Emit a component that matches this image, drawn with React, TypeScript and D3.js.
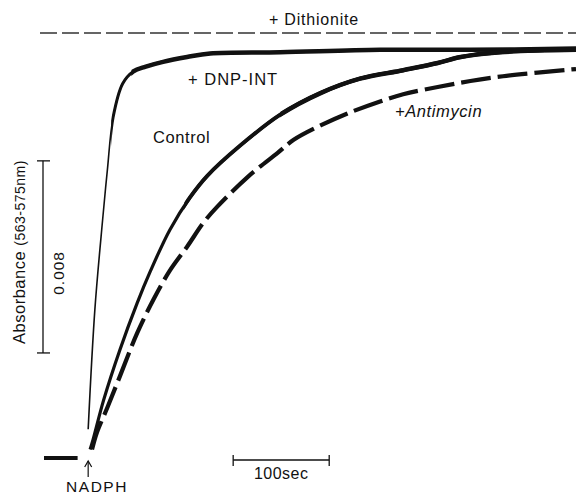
import React from "react";
import * as d3 from "d3";

// time in sec after NADPH addition, absorbance change in units of 0.001
const baselineT = [-46, -11];

const dnpT = [0, 7, 15, 20, 26, 36, 47, 60, 78, 103, 127, 200, 304, 398, 508];
const dnpA = [1.2, 6.2, 9.9, 12.0, 14.2, 15.6, 16.1, 16.3, 16.5, 16.7, 16.85, 16.9, 17.0, 17.0, 17.05];

const controlT = [2, 5, 16, 33, 51, 65, 85, 106, 124, 158, 200, 242, 283, 328, 364, 388, 429, 508];
const controlA = [0.35, 0.75, 2.4, 4.5, 6.45, 7.8, 9.5, 10.85, 11.75, 13.0, 14.3, 15.2, 15.8, 16.15, 16.45, 16.7, 16.9, 17.0];

const antimycinT = [4, 9, 20, 33, 51, 68, 85, 103, 120, 134, 166, 197, 214, 242, 270, 304, 328, 364, 398, 432, 468, 508];
const antimycinA = [0.35, 1.05, 2.1, 3.4, 5.2, 6.6, 7.8, 8.8, 9.8, 10.45, 11.7, 12.7, 13.25, 13.85, 14.35, 14.85, 15.15, 15.45, 15.7, 15.9, 16.05, 16.2];

const dithioniteA = 17.7;
const absBar = [4.375, 12.375]; // 0.008
const timeBar = [151, 251]; // 100 sec

const W = 576;
const H = 495;

const x = d3.scaleLinear().domain([-46, 508]).range([44, 576]);
const y = d3.scaleLinear().domain([0, dithioniteA]).range([458, 33]);

const line = d3
  .line<[number, number]>()
  .x((d) => x(d[0]))
  .y((d) => y(d[1]))
  .curve(d3.curveCatmullRom.alpha(0.5));

const zip = (t: number[], a: number[]) => t.map((v, i) => [v, a[i]] as [number, number]);

const font = "'Liberation Sans', Arial, sans-serif";
const ink = "#111";

export default function App() {
  const x0 = x(0);
  const dnpPath = line(zip(dnpT, dnpA)) || "";
  const ctlPath = line(zip(controlT, controlA)) || "";
  const antPath = line(zip(antimycinT, antimycinA)) || "";
  const clips = [24, 45, 100, 200];
  return (
    <svg
      width={W}
      height={H}
      style={{ position: "absolute", left: 0, top: 0, background: "#fff" }}
      fontFamily={font}
      fill={ink}
    >
      <defs>
        {clips.map((t) => (
          <clipPath key={t} id={`after${t}`}>
            <rect x={x(t)} y={0} width={W} height={H} />
          </clipPath>
        ))}
      </defs>

      {/* dithionite reference */}
      <line
        x1={40}
        x2={W}
        y1={y(dithioniteA)}
        y2={y(dithioniteA)}
        stroke="#333"
        strokeWidth={1.3}
        strokeDasharray="17 5"
      />
      <text x={314} y={25} fontSize={16} letterSpacing={0.8} textAnchor="middle">
        + Dithionite
      </text>

      {/* pre-addition baseline */}
      <line
        x1={x(baselineT[0])}
        x2={x(baselineT[1])}
        y1={y(0)}
        y2={y(0)}
        stroke={ink}
        strokeWidth={4}
      />

      {/* DNP-INT */}
      <path d={dnpPath} fill="none" stroke={ink} strokeWidth={1.6} />
      <path d={dnpPath} fill="none" stroke={ink} strokeWidth={3} clipPath="url(#after24)" />
      <path d={dnpPath} fill="none" stroke={ink} strokeWidth={4.5} clipPath="url(#after45)" />

      {/* control */}
      <path d={ctlPath} fill="none" stroke={ink} strokeWidth={3.2} />
      <path d={ctlPath} fill="none" stroke={ink} strokeWidth={3.9} clipPath="url(#after100)" />
      <path d={ctlPath} fill="none" stroke={ink} strokeWidth={4.6} clipPath="url(#after200)" />

      {/* antimycin */}
      <path d={antPath} fill="none" stroke={ink} strokeWidth={4.2} strokeDasharray="30 7" />

      <text x={188} y={85} fontSize={16.5} letterSpacing={1}>+ DNP-INT</text>
      <text x={153} y={143} fontSize={16.5} letterSpacing={0.6}>Control</text>
      <text x={395} y={117} fontSize={16.5} letterSpacing={0.6} fontStyle="italic">+Antimycin</text>

      {/* absorbance scale bar */}
      <g stroke={ink} strokeWidth={1.3}>
        <line x1={43} x2={43} y1={y(absBar[1])} y2={y(absBar[0])} />
        <line x1={37} x2={50} y1={y(absBar[1])} y2={y(absBar[1])} />
        <line x1={37} x2={50} y1={y(absBar[0])} y2={y(absBar[0])} />
      </g>
      <text
        transform={`translate(64,${(y(absBar[0]) + y(absBar[1])) / 2 + 16}) rotate(-90)`}
        fontSize={15.5}
        letterSpacing={1}
        textAnchor="middle"
      >
        0.008
      </text>
      <text transform="translate(25,252) rotate(-90)" textAnchor="middle" fontSize={16.5} letterSpacing={0.5}>
        Absorbance <tspan fontSize={14}>(563-575nm)</tspan>
      </text>

      {/* time scale bar */}
      <g stroke={ink} strokeWidth={1.3}>
        <line x1={x(timeBar[0])} x2={x(timeBar[1])} y1={460} y2={460} />
        <line x1={x(timeBar[0])} x2={x(timeBar[0])} y1={455} y2={466} />
        <line x1={x(timeBar[1])} x2={x(timeBar[1])} y1={455} y2={466} />
      </g>
      <text x={(x(timeBar[0]) + x(timeBar[1])) / 2} y={479} fontSize={16} letterSpacing={0.5} textAnchor="middle">
        100sec
      </text>

      {/* NADPH addition */}
      <g stroke={ink} strokeWidth={1.2} fill="none">
        <line x1={x0} x2={x0} y1={461} y2={477} />
        <path d={`M${x0 - 3.5},467 L${x0},461 L${x0 + 3.5},467`} />
      </g>
      <text x={97} y={492} fontSize={15.5} letterSpacing={1.5} textAnchor="middle">
        NADPH
      </text>
    </svg>
  );
}
